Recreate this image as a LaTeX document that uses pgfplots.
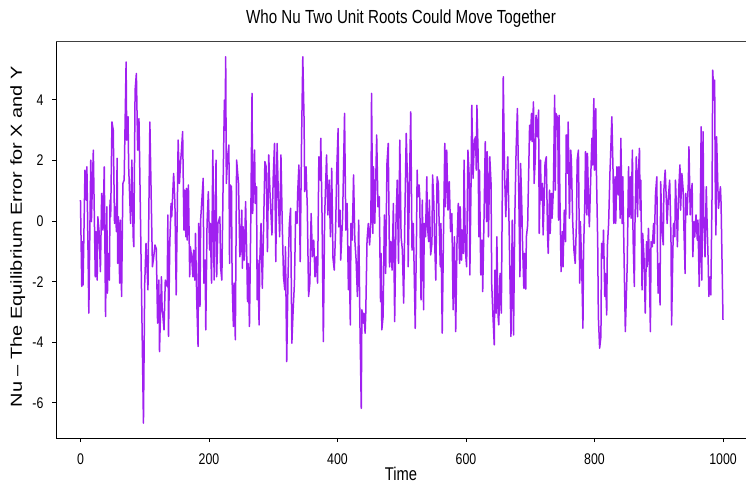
\documentclass[border=0pt]{standalone}
\usepackage{fontspec}
\setmainfont{Liberation Sans}
\newfontfamily\narrow[FakeStretch=0.8]{Liberation Sans}
\usepackage{graphicx}
\usepackage{pgfplots}
\pgfplotsset{compat=1.18}
\definecolor{rpurple}{HTML}{A020F0}
\begin{document}
\begin{tikzpicture}
\path[use as bounding box] (-56bp,-47bp) rectangle (690bp,438bp);
\begin{axis}[
 at={(0,0)}, anchor=south west,
 scale only axis, width=690bp, height=397bp,
 xmin=-38.1, xmax=1035.8, ymin=-7.16, ymax=5.94,
 axis lines*=left,
 axis line style={line width=1bp, black},
 tick align=outside,
 major tick length=4bp,
 tick style={line width=0.8bp, black},
 xtick={0,200,400,600,800,1000},
 ytick={-6,-4,-2,0,2,4},
 /pgf/number format/assume math mode=true,
 /pgf/number format/1000 sep={},
 ticklabel style={font=\narrow\fontsize{15.5}{15.5}\selectfont},
 xticklabel style={anchor=base, yshift=-22bp},
 yticklabel style={anchor=east, xshift=-5bp},
 title={Who Nu Two Unit Roots Could Move Together},
 title style={font=\narrow\fontsize{19}{19}\selectfont, at={(axis description cs:0.5,1.0302)}, anchor=base},
 xlabel={Time},
 xlabel style={font=\narrow\fontsize{18.5}{18.5}\selectfont, inner sep=0bp, at={(axis description cs:0.5,-0.1065)}, anchor=base},
 ylabel={\scalebox{1}[0.8]{Nu -- The Equilibrium Error for X and Y}},
 ylabel style={font=\fontsize{20}{20}\selectfont, at={(axis description cs:-0.0493,0.507)}, anchor=base, rotate=0},
]
\draw[line width=1.2bp, black!75] (rel axis cs:0,1) -- (rel axis cs:1,1);
\addplot[rpurple, line width=1.5bp, line join=round, mark=none] coordinates {
(0,0.69)(2,-2.16)(3,-0.68)(4,-2.11)(7,1.68)(9,0.69)(10,1.79)(13,-3.04)(16,2.01)(17,-0.02)(20,2.34)(23,-1.84)(24,-0.35)(26,-1.95)(27,0.14)(29,-0.35)(31,-1.67)(33,0.91)(35,-0.30)(37,1.79)(39,-3.15)(41,0.47)(42,-2.38)(43,-1.07)(45,-1.95)(46,0.69)(47,0.14)(49,3.27)(51,3.00)(53,-0.08)(54,0.47)(56,-0.35)(57,2.07)(58,-1.40)(59,0.14)(61,-2.05)(62,0.03)(64,-2.49)(66,1.24)(68,1.35)(71,5.25)(72,2.67)(74,3.44)(75,1.79)(78,-0.08)(80,2.01)(82,-0.52)(83,-0.85)(85,4.32)(87,4.87)(89,2.34)(91,3.38)(92,2.12)(98,-6.67)(100,-2.05)(102,-0.74)(105,-2.27)(108,3.27)(112,-1.51)(114,-1.18)(116,-0.79)
(118,-0.92)(120,-3.37)(122,-1.95)(123,-4.31)(126,-1.84)(127,-2.82)(130,-3.59)(132,-1.95)(135,-2.16)(136,0.20)(137,-3.81)(139,-0.74)(141,0.58)(142,0.14)(145,1.57)(147,0.58)(149,-2.44)(152,2.67)(154,1.24)(156,2.01)(157,2.29)(159,2.95)(161,-0.30)(162,1.02)(164,-0.52)(165,1.08)(166,-0.63)(168,1.19)(170,-1.84)(171,-0.85)(173,-1.18)(175,-1.84)(176,-0.96)(178,-1.95)(179,-0.41)(181,-2.66)(183,-4.14)(184,-0.08)(186,-2.82)(187,0.03)(191,1.41)(192,-2.05)(194,-1.29)(195,-3.59)(197,-0.08)(199,0.97)(201,-0.96)(202,-0.08)(204,-2.05)(206,2.34)(208,-1.95)(211,2.01)(212,-1.84)(214,-0.08)(217,0.14)(218,-1.51)(220,-1.95)(222,1.24)(224,3.99)(225,3.00)(226,5.42)(227,1.24)(229,2.12)(231,2.51)(232,-1.40)(233,1.19)(235,1.13)(236,-1.95)(238,-3.48)(239,-2.05)(241,-3.92)(243,2.01)
(246,1.24)(248,-1.18)(249,-0.96)(251,0.36)(252,-1.56)(253,-0.19)(255,-1.29)(257,0.64)(259,-1.40)(260,-2.66)(261,-1.40)(263,-3.48)(265,-0.08)(267,4.21)(268,0.25)(271,2.34)(272,0.58)(274,1.13)(275,-2.60)(276,-1.29)(278,-3.43)(279,-1.40)(281,-0.08)(283,-2.22)(285,-0.19)(287,1.96)(289,1.79)(291,-1.01)(293,2.18)(295,0.91)(298,-0.46)(300,1.46)(302,2.56)(304,-1.34)(306,2.56)(308,0.80)(310,-0.52)(312,2.18)(314,-0.08)(316,-1.84)(318,-2.27)(319,-0.85)(321,-4.64)(323,-1.84)(325,-0.13)(327,0.42)(329,-4.03)(331,-2.93)(333,-2.05)(335,0.31)(337,-0.08)(338,0.91)(340,1.85)(342,-1.34)(344,2.56)(346,5.42)(348,3.33)(349,0.97)(351,1.79)(353,0.47)(355,-2.49)(357,-2.05)(359,0.25)(361,-1.18)(363,-0.63)(365,-1.84)(367,-1.18)(369,-2.05)(371,2.12)
(373,1.35)(374,2.73)(376,0.14)(378,-3.98)(380,0.14)(383,2.18)(385,0.20)(387,1.35)(389,-0.52)(391,1.74)(393,-1.23)(395,-1.62)(397,-0.35)(399,1.79)(401,3.05)(402,-0.19)(404,0.36)(405,-1.29)(408,0.14)(411,3.55)(413,-0.30)(415,0.58)(417,-2.27)(418,-0.85)(420,-3.43)(421,-0.08)(423,-0.63)(425,1.52)(427,-0.63)(429,-1.29)(431,-2.49)(433,0.03)(435,-3.48)(437,-6.18)(438,-2.93)(440,-3.37)(441,-3.04)(443,-3.70)(444,-3.04)(446,-0.63)(448,-0.08)(450,-0.79)(452,0.03)(453,4.21)(455,-0.41)(456,1.79)(458,-0.08)(460,1.79)(461,2.84)(463,0.47)(465,0.80)(467,-2.66)(468,-1.07)(469,-3.59)(471,-3.15)(473,0.20)(475,-1.73)(477,1.90)(479,2.56)(481,-1.51)(483,-0.68)(485,-1.62)(487,0.58)(489,-3.32)(491,-0.08)(493,1.35)(495,-1.40)(497,2.67)
(499,-0.52)(501,-0.96)(503,-2.71)(505,0.36)(507,2.89)(509,1.24)(510,-1.51)(512,1.24)(514,3.60)(516,-0.96)(518,-0.08)(521,-3.54)(523,-0.46)(524,1.68)(525,0.80)(527,1.19)(528,0.80)(530,-2.60)(532,0.69)(534,-2.93)(535,-0.08)(537,-0.52)(539,1.46)(540,-0.19)(542,-0.68)(543,0.69)(545,-1.12)(547,-0.74)(548,1.52)(550,0.58)(551,-0.52)(553,-1.95)(555,1.46)(557,1.24)(558,0.14)(560,-1.51)(561,-0.08)(563,-3.70)(565,-0.41)(567,2.56)(568,0.47)(570,2.34)(572,0.36)(574,1.30)(576,-0.35)(578,0.25)(580,-2.93)(582,-0.52)(584,-3.65)(586,-0.74)(588,0.58)(590,-1.40)(591,0.47)(593,-1.29)(594,-0.30)(596,-1.07)(597,2.01)(599,-0.96)(601,-1.51)(603,2.34)(605,1.46)(606,-1.78)(608,1.46)(609,3.82)(611,1.41)(613,2.67)(615,2.78)(616,1.68)(617,3.82)(619,2.12)(620,-0.52)
(621,1.68)(623,-1.78)(625,-0.63)(626,-2.33)(628,0.03)(630,2.62)(632,-0.02)(633,2.29)(635,-0.52)(637,2.12)(639,1.24)(640,-2.05)(642,-3.15)(644,-4.09)(645,-1.62)(647,-3.04)(648,-0.52)(650,-3.15)(651,-3.43)(653,-1.73)(655,-3.04)(658,4.76)(660,1.57)(662,0.14)(663,0.91)(665,2.12)(667,-0.08)(670,-3.81)(672,0.03)(674,-3.76)(676,0.14)(678,2.34)(680,3.71)(682,1.13)(684,-1.84)(685,1.90)(687,0.36)(688,-0.74)(690,-2.22)(691,-1.07)(693,-2.25)(694,-0.52)(696,-0.13)(697,1.02)(699,3.16)(700,2.67)(702,3.55)(703,2.62)(705,3.93)(706,1.24)(708,2.12)(709,3.49)(711,2.78)(713,3.66)(714,-0.41)(716,2.01)(717,0.69)(719,1.24)(720,-0.46)(722,0.91)(723,1.90)(725,2.12)(727,-0.52)(728,-1.07)(730,1.02)(731,-0.41)(733,0.91)(734,0.09)(736,1.02)(738,4.15)(739,1.02)(740,3.55)(742,3.44)(743,2.89)
(744,0.03)(745,3.49)(746,1.02)(747,-0.35)(748,-1.67)(750,-0.35)(751,-1.51)(753,0.36)(755,-0.68)(756,2.84)(758,1.57)(759,3.27)(761,0.09)(763,2.34)(764,2.01)(766,0.03)(768,-0.96)(770,-1.40)(772,0.03)(773,2.01)(775,2.34)(777,-2.05)(778,-0.02)(780,-1.40)(782,-3.54)(783,-0.96)(785,0.69)(786,2.29)(788,0.20)(789,2.23)(791,0.42)(792,-0.19)(794,1.35)(796,2.73)(797,1.85)(799,4.04)(800,1.68)(802,3.71)(803,1.63)(805,-0.74)(806,-3.15)(808,-4.20)(810,-3.81)(811,-0.74)(813,-1.23)(814,-0.30)(816,-2.49)(817,-1.73)(819,-3.10)(820,-0.85)(822,-0.08)(824,1.57)(825,2.12)(827,3.44)(829,1.52)(830,-0.08)(832,1.46)(833,-0.08)(835,1.79)(837,0.86)(838,1.79)(840,0.09)(841,2.73)(843,-0.08)(844,1.46)(846,-1.18)(848,-3.65)(851,-1.40)(853,1.79)(854,0.14)(856,1.46)(857,0.09)(859,2.34)(860,-0.52)(862,-2.16)(863,-0.08)(865,2.12)(867,0.14)(868,1.46)(870,2.40)
(871,0.36)(872,1.35)(874,-2.27)(875,-0.41)(877,-1.18)(879,-3.04)(881,-0.68)(882,-1.51)(884,-0.24)(885,-1.07)(887,-3.65)(888,-0.68)(890,-0.85)(892,-0.08)(893,-0.74)(895,0.91)(897,1.46)(898,-0.96)(899,-2.38)(901,-1.40)(902,-2.77)(903,1.30)(905,-0.30)(907,-0.79)(908,1.02)(910,1.68)(912,0.58)(913,-0.08)(915,0.80)(917,1.35)(919,-0.52)(920,-3.43)(922,-0.96)(923,-0.08)(925,-0.52)(926,1.35)(928,0.14)(929,-0.85)(931,1.02)(933,1.85)(934,0.36)(936,1.57)(938,1.02)(939,-0.08)(941,-1.73)(942,0.91)(944,0.20)(946,1.24)(947,2.45)(949,0.20)(950,0.80)(952,1.24)(953,-1.18)(955,-0.02)(956,-0.52)(958,0.20)(960,-0.63)(961,0.03)(963,-2.16)(964,-1.18)(966,3.11)(967,-1.95)(969,2.95)(970,0.14)(972,-1.18)(974,1.13)(975,0.14)(977,-1.40)(978,-2.49)(980,-1.84)(981,-2.44)(983,0.91)(984,4.98)(986,3.99)(987,4.65)(988,1.02)(989,-0.46)(990,2.78)(992,1.13)(993,0.42)(995,0.91)(996,1.13)(997,0.58)(1000,-3.26)
};
\end{axis}
\end{tikzpicture}
\end{document}
